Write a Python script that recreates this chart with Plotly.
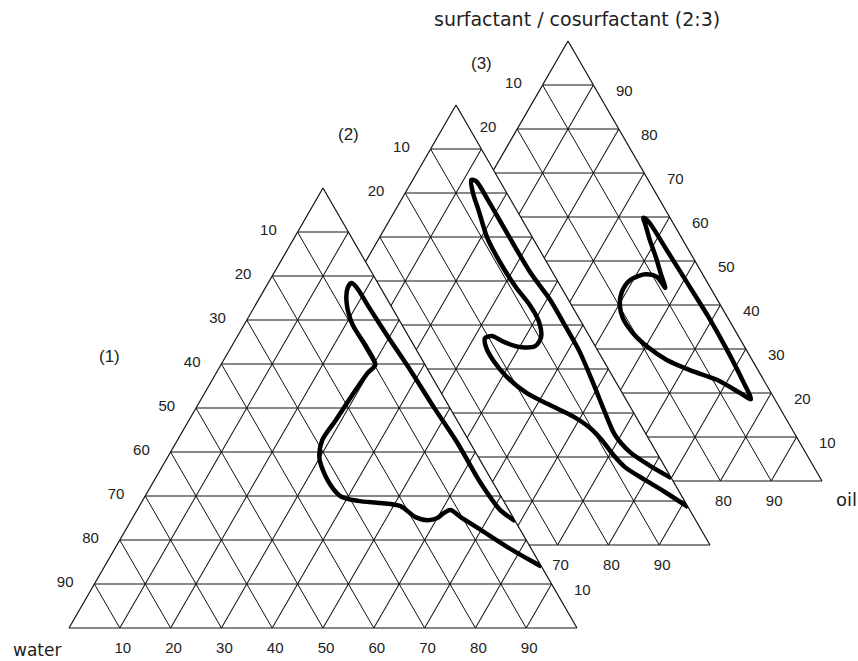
import math
import plotly.graph_objects as go

W, H = 858, 661

# grid / tick values (percent)
TICKS = [10, 20, 30, 40, 50, 60, 70, 80, 90]

# visible edge labels per diagram
LEFT_WATER = {1: [10, 20, 30, 40, 50, 60, 70, 80, 90], 2: [10, 20], 3: [10, 20]}
BOTTOM_OIL = {1: [10, 20, 30, 40, 50, 60, 70, 80, 90], 2: [70, 80, 90], 3: [80, 90]}
RIGHT_SURF = {1: [10], 2: [], 3: [10, 20, 30, 40, 50, 60, 70, 80, 90]}

# microemulsion region (1): surfactant / oil (%), water is the balance
surf_1 = [14, 15, 18.4, 22.3, 25.2, 26.8, 26.1, 25, 24.5, 25.2, 27.7, 28.4, 28.9, 30,
          33.6, 38.6, 42.7, 47.3, 53, 58, 59.8, 63.9, 68.9, 73.9, 77.3, 78.4, 77.5,
          73, 66.1, 58.6, 50.2, 42, 33, 26.8, 24.3]
oil_1 = [86, 83.9, 77.1, 69.9, 64.5, 61.7, 60.7, 60, 58.3, 55.6, 51.4, 47.1, 42.4, 38.4,
         34.1, 30, 28.5, 28.9, 29.3, 29.8, 30.4, 26.6, 21.4, 17.7, 16.2, 16.4, 17.8,
         22.5, 29.8, 37.9, 46.7, 55.5, 64.5, 71.5, 75.7]

# microemulsion region (2)
surf_2 = [8.6, 12.1, 14.8, 17.7, 20.5, 23.6, 26.6, 29.3, 31.8, 34.5, 38.2, 42, 45, 47,
          47.5, 46.1, 45, 45.2, 47.3, 50.7, 54.5, 58.6, 64.1, 70, 75.7, 80.2, 83,
          82.7, 78.4, 70.5, 62, 55.7, 49.5, 43.9, 36.8, 30.2, 25, 21.1, 18, 15.2]
oil_2 = [91.4, 85, 79.8, 74.4, 70.7, 67.1, 63.1, 58.3, 52.6, 46.7, 40.9, 36.3, 33.4, 32.2,
         33.3, 36.5, 40.1, 43, 43.1, 41, 37.3, 32.5, 26.7, 21.1, 16.7, 13.2, 11.5,
         12.6, 17.1, 25, 33.6, 40.7, 46.9, 52.4, 58.6, 64.2, 68.8, 73.7, 79.2, 84.8]

# microemulsion region (3), closed outline
surf_3 = [59.8, 59.1, 52, 44.8, 37.3, 29.8, 23, 18.6, 20, 23, 25.2, 27.5, 30.5, 33.6,
          37, 40, 43, 45.7, 47, 46.4, 43.9, 47, 50.7, 54.8, 58.4, 59.8]
oil_3 = [34.9, 36.2, 43.7, 51.2, 59, 66.4, 72.8, 76.7, 73.9, 67.8, 61.4, 55.7, 50.4, 46,
         42.3, 40.2, 39.1, 39.4, 41.7, 44.3, 47.2, 44.8, 42, 38.7, 36, 34.9]

# placement of each triangle in the page: (centre x, base y) in px, common side length
SIDE = 508
HEIGHT = SIDE * math.sqrt(3) / 2
PLACE = {1: (323, 628), 2: (456, 545), 3: (568, 481)}
# drawing order: back diagram first, front diagrams hide what lies behind them
SUBPLOT = {3: "ternary", 2: "ternary2", 1: "ternary3"}

LINE = "#111111"
SANS = "Liberation Sans, Arial, sans-serif"
tick_font = dict(family=SANS, size=15, color="#222222")


def domain(n):
    cx, base = PLACE[n]
    return dict(x=[(cx - SIDE / 2) / W, (cx + SIDE / 2) / W],
                y=[1 - base / H, 1 - (base - HEIGHT) / H])


def axis(texts, ticklen):
    return dict(tickmode="array", tickvals=TICKS, ticktext=texts,
                showgrid=True, gridcolor=LINE, gridwidth=1,
                showline=True, linecolor=LINE, linewidth=1.2,
                ticks="outside", ticklen=ticklen, tickcolor="rgba(0,0,0,0)",
                tickfont=tick_font, title=dict(text=""), layer="below traces")


def ternary_layout(n):
    # left edge is labelled with the water content, the bottom edge with the
    # oil content; the right edge (surfactant) labels are added separately
    a_txt = [str(100 - v) if (100 - v) in LEFT_WATER[n] else "" for v in TICKS]
    b_txt = [str(100 - v) if (100 - v) in BOTTOM_OIL[n] else "" for v in TICKS]
    c_txt = ["" for _ in TICKS]
    return dict(domain=domain(n), sum=100, bgcolor="white",
                aaxis=axis(a_txt, 18), baxis=axis(b_txt, 6), caxis=axis(c_txt, 6))


fig = go.Figure()
regions = {1: (surf_1, oil_1), 2: (surf_2, oil_2), 3: (surf_3, oil_3)}
for n in (3, 2, 1):
    s, o = regions[n]
    w = [100 - si - oi for si, oi in zip(s, o)]
    fig.add_trace(go.Scatterternary(
        a=s, b=w, c=o, mode="lines", subplot=SUBPLOT[n],
        line=dict(color="black", width=4.5, shape="spline", smoothing=0.8),
        hoverinfo="skip", showlegend=False))

layout = dict(width=W, height=H, margin=dict(l=0, r=0, t=0, b=0),
              paper_bgcolor="white", showlegend=False)
for n in (3, 2, 1):
    layout[SUBPLOT[n]] = ternary_layout(n)
fig.update_layout(**layout)

# surfactant labels beside the right edge of each triangle
for n in (3, 2, 1):
    cx, base = PLACE[n]
    for v in RIGHT_SURF[n]:
        ex = cx + SIDE / 2 * (1 - v / 100)
        ey = base - HEIGHT * v / 100
        fig.add_annotation(text=str(v), x=(ex + 31) / W, y=1 - (ey + 5) / H,
                           xref="paper", yref="paper", showarrow=False,
                           font=tick_font, xanchor="center", yanchor="middle")

notes = [
    ("surfactant / cosurfactant (2:3)", 577, 19,
     dict(family="DejaVu Sans, sans-serif", size=19, color="#222222")),
    ("water", 37, 650, dict(family="DejaVu Sans, sans-serif", size=17, color="#222222")),
    ("oil", 846, 499, dict(family="DejaVu Sans, sans-serif", size=18, color="#222222")),
    ("(1)", 110, 357, dict(family=SANS, size=17, color="#222222")),
    ("(2)", 348, 134, dict(family=SANS, size=17, color="#222222")),
    ("(3)", 482, 63, dict(family=SANS, size=17, color="#222222")),
]
for txt, x, y, f in notes:
    fig.add_annotation(text=txt, x=x / W, y=1 - y / H, xref="paper", yref="paper",
                       showarrow=False, font=f, xanchor="center", yanchor="middle")

fig.write_html("out.html")
